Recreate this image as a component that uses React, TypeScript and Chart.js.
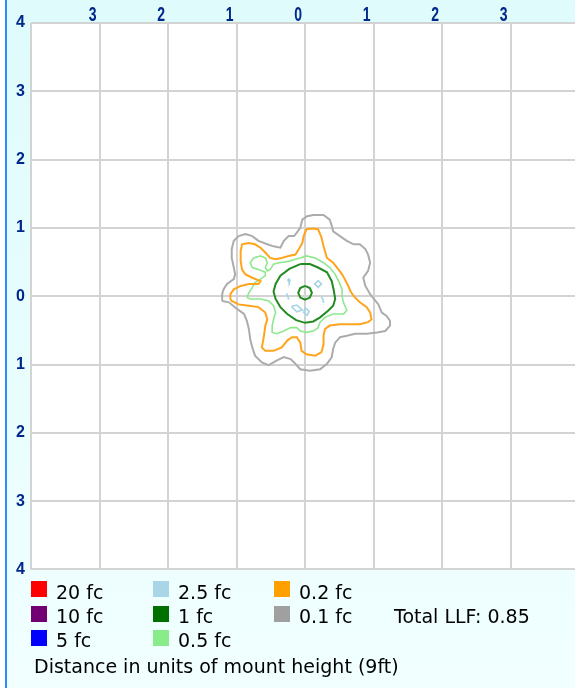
import React, { useEffect, useRef } from "react";
import { Chart, registerables } from "chart.js";

Chart.register(...registerables);

// ---- axes ----
const xTickValues = [-4, -3, -2, -1, 0, 1, 2, 3];
const yTickValues = [-4, -3, -2, -1, 0, 1, 2, 3, 4];
const xRange = [-4, 3.94];
const yRange = [-4, 4];

// ---- isofootcandle contours (units of mount height) ----
const contour01fc: number[][] = [
  [-1.21, -0.07], [-1.21, 0.03], [-1.19, 0.1], [-1.14, 0.18], [-1.04, 0.25], [-1.02, 0.32], [-1.04, 0.42],
  [-1.07, 0.56], [-1.07, 0.69], [-1.04, 0.81], [-0.97, 0.88], [-0.87, 0.91], [-0.77, 0.88], [-0.68, 0.81],
  [-0.55, 0.76], [-0.46, 0.73], [-0.36, 0.71], [-0.31, 0.81], [-0.24, 0.88], [-0.16, 0.88], [-0.12, 0.93],
  [-0.07, 1.0], [-0.04, 1.12], [0.03, 1.17], [0.12, 1.19], [0.27, 1.19], [0.36, 1.12], [0.39, 1.03],
  [0.41, 0.95], [0.51, 0.88], [0.61, 0.81], [0.71, 0.76], [0.8, 0.76], [0.88, 0.69], [0.92, 0.61],
  [0.95, 0.49], [0.92, 0.37], [0.85, 0.27], [0.88, 0.15], [0.95, 0.03], [1.07, -0.12], [1.12, -0.24],
  [1.19, -0.29], [1.24, -0.36], [1.24, -0.43], [1.17, -0.51], [1.05, -0.53], [0.9, -0.55], [0.73, -0.55],
  [0.61, -0.58], [0.51, -0.6], [0.44, -0.68], [0.41, -0.77], [0.39, -0.89], [0.32, -0.99], [0.22, -1.07],
  [0.07, -1.09], [-0.07, -1.07], [-0.14, -0.99], [-0.21, -0.92], [-0.31, -0.89], [-0.41, -0.94],
  [-0.53, -1.01], [-0.63, -0.97], [-0.73, -0.87], [-0.77, -0.75], [-0.8, -0.63], [-0.82, -0.48],
  [-0.85, -0.36], [-0.89, -0.26], [-0.99, -0.19], [-1.11, -0.09],
];

const contour02fc: number[][] = [
  [-1.09, -0.04], [-1.09, 0.03], [-1.04, 0.1], [-0.94, 0.15], [-0.82, 0.18], [-0.68, 0.18], [-0.65, 0.22],
  [-0.77, 0.27], [-0.87, 0.32], [-0.92, 0.39], [-0.94, 0.52], [-0.94, 0.66], [-0.92, 0.76], [-0.82, 0.78],
  [-0.73, 0.76], [-0.65, 0.71], [-0.58, 0.64], [-0.51, 0.56], [-0.43, 0.54], [-0.34, 0.56], [-0.24, 0.59],
  [-0.14, 0.61], [-0.09, 0.69], [-0.04, 0.78], [-0.02, 0.88], [0.02, 0.98], [0.12, 0.99], [0.19, 0.98],
  [0.24, 0.86], [0.27, 0.73], [0.32, 0.56], [0.41, 0.49], [0.49, 0.39], [0.54, 0.32], [0.58, 0.25],
  [0.63, 0.15], [0.66, 0.08], [0.71, 0.0], [0.8, -0.09], [0.9, -0.16], [0.95, -0.24], [0.97, -0.34],
  [0.92, -0.38], [0.8, -0.41], [0.66, -0.41], [0.51, -0.41], [0.36, -0.43], [0.29, -0.48], [0.27, -0.58],
  [0.27, -0.7], [0.24, -0.82], [0.15, -0.87], [0.02, -0.85], [-0.05, -0.8], [-0.07, -0.68], [-0.12, -0.6],
  [-0.19, -0.6], [-0.26, -0.65], [-0.34, -0.75], [-0.46, -0.8], [-0.58, -0.8], [-0.63, -0.75],
  [-0.6, -0.58], [-0.58, -0.43], [-0.55, -0.34], [-0.58, -0.24], [-0.68, -0.16], [-0.82, -0.14],
  [-0.97, -0.12], [-1.07, -0.07],
];

const contour05fc: number[][] = [
  [-0.85, -0.02], [-0.82, 0.05], [-0.77, 0.13], [-0.73, 0.2], [-0.65, 0.25], [-0.58, 0.3], [-0.58, 0.35],
  [-0.68, 0.39], [-0.77, 0.42], [-0.8, 0.49], [-0.75, 0.56], [-0.65, 0.59], [-0.58, 0.56], [-0.55, 0.49],
  [-0.58, 0.42], [-0.55, 0.37], [-0.51, 0.39], [-0.46, 0.47], [-0.38, 0.49], [-0.24, 0.51], [-0.14, 0.54],
  [-0.07, 0.56], [0.02, 0.59], [0.15, 0.56], [0.27, 0.49], [0.36, 0.42], [0.44, 0.32], [0.49, 0.22],
  [0.54, 0.1], [0.54, 0.0], [0.56, -0.09], [0.61, -0.21], [0.56, -0.26], [0.41, -0.26], [0.29, -0.31],
  [0.22, -0.38], [0.19, -0.46], [0.12, -0.51], [0.02, -0.53], [-0.07, -0.51], [-0.12, -0.46],
  [-0.21, -0.46], [-0.31, -0.51], [-0.41, -0.55], [-0.48, -0.53], [-0.48, -0.43], [-0.46, -0.34],
  [-0.43, -0.24], [-0.46, -0.14], [-0.53, -0.07], [-0.65, -0.04], [-0.8, -0.04],
];

const contour1fcOuter: number[][] = [
  [-0.07, 0.47], [0.07, 0.47], [0.19, 0.42], [0.32, 0.35], [0.39, 0.22], [0.42, 0.08], [0.44, -0.04],
  [0.41, -0.14], [0.34, -0.21], [0.22, -0.31], [0.12, -0.37], [0.0, -0.39], [-0.13, -0.35], [-0.26, -0.26],
  [-0.36, -0.16], [-0.43, -0.04], [-0.46, 0.07], [-0.43, 0.18], [-0.36, 0.3], [-0.23, 0.4],
];

const contour1fcInner: number[][] = [
  [0.0, 0.15], [0.07, 0.12], [0.1, 0.05], [0.07, -0.02], [0.0, -0.05], [-0.07, -0.02], [-0.1, 0.05], [-0.07, 0.12],
];

const contour25fcA: number[][] = [[-0.24, 0.26], [-0.22, 0.23], [-0.23, 0.2], [-0.25, 0.23]];
const contour25fcB: number[][] = [[0.19, 0.23], [0.24, 0.18], [0.19, 0.13], [0.14, 0.18]];
const contour25fcC: number[][] = [[-0.27, 0.04], [-0.25, 0.0], [-0.24, -0.05]];
const contour25fcD: number[][] = [[0.24, -0.01], [0.26, -0.05], [0.27, -0.1]];
const contour25fcE: number[][] = [[-0.2, -0.15], [-0.12, -0.13], [-0.04, -0.2], [-0.12, -0.23]];
const contour25fcF: number[][] = [[0.0, -0.17], [0.06, -0.22], [0.03, -0.28], [-0.02, -0.24]];

// ---- legend ----
const legendLabels = ["20 fc", "10 fc", "5 fc", "2.5 fc", "1 fc", "0.5 fc", "0.2 fc", "0.1 fc"];
const legendColors = ["#ff0000", "#720072", "#0000ff", "#a8d6e6", "#007000", "#88ec88", "#ffa000", "#a0a0a0"];
const totalLLF = "0.85";
const captionText = "Distance in units of mount height (9ft)";

const loop = (pts: number[][], closed = true) => {
  const d = pts.map((p) => ({ x: p[0], y: p[1] }));
  if (closed) d.push({ x: pts[0][0], y: pts[0][1] });
  return d;
};

const plotBg = {
  id: "plotBg",
  beforeDraw(chart: any) {
    const { ctx, chartArea: a } = chart;
    ctx.save();
    ctx.fillStyle = "#ffffff";
    ctx.fillRect(a.left, a.top, a.right - a.left, a.bottom - a.top);
    ctx.restore();
  },
};

// top axis labels: tall, narrow digits placed just left of each grid line
const topLabels = {
  id: "topLabels",
  afterDraw(chart: any) {
    const { ctx } = chart;
    const xs = chart.scales.x;
    ctx.save();
    ctx.fillStyle = "#00288c";
    ctx.font = "bold 14px 'Liberation Sans'";
    ctx.textAlign = "right";
    ctx.textBaseline = "alphabetic";
    xs.ticks.forEach((t: any) => {
      if (t.value === -4) return;
      const px = xs.getPixelForValue(t.value);
      ctx.save();
      ctx.translate(px - 3, 20.5);
      ctx.scale(1, 1.45);
      ctx.fillText(String(Math.abs(t.value)), 0, 0);
      ctx.restore();
    });
    ctx.restore();
  },
};

export default function App() {
  const ref = useRef<HTMLCanvasElement | null>(null);

  useEffect(() => {
    if (!ref.current) return;
    const line = (data: any[], color: string, width: number) => ({
      data,
      showLine: true,
      borderColor: color,
      backgroundColor: color,
      borderWidth: width,
      pointRadius: 0,
      fill: false,
      tension: 0,
    });
    const chart = new Chart(ref.current, {
      type: "scatter",
      data: {
        datasets: [
          line(loop(contour01fc), "#acacac", 2),
          line(loop(contour02fc), "#ffa41c", 2),
          line(loop(contour05fc), "#8ee88e", 1.6),
          line(loop(contour1fcOuter), "#228b22", 2),
          line(loop(contour1fcInner), "#228b22", 2),
          line(loop(contour25fcA), "#a6d3e6", 1.6),
          line(loop(contour25fcB), "#a6d3e6", 1.6),
          line(loop(contour25fcC, false), "#a6d3e6", 1.6),
          line(loop(contour25fcD, false), "#a6d3e6", 1.6),
          line(loop(contour25fcE), "#a6d3e6", 1.6),
          line(loop(contour25fcF), "#a6d3e6", 1.6),
        ] as any,
      },
      options: {
        animation: false,
        responsive: false,
        devicePixelRatio: 1,
        layout: { padding: { left: 0, right: 0, top: 0, bottom: 14.5 } },
        plugins: { legend: { display: false }, tooltip: { enabled: false } },
        scales: {
          x: {
            type: "linear",
            position: "top",
            min: xRange[0],
            max: xRange[1],
            afterBuildTicks: (s: any) => {
              s.ticks = xTickValues.map((v) => ({ value: v }));
            },
            afterFit: (s: any) => {
              s.height = 23;
            },
            grid: { color: "#d3d3d3", lineWidth: 2, drawTicks: false },
            border: { display: false },
            ticks: { display: false },
          },
          y: {
            type: "linear",
            position: "left",
            min: yRange[0],
            max: yRange[1],
            afterBuildTicks: (s: any) => {
              s.ticks = yTickValues.map((v) => ({ value: v }));
            },
            afterFit: (s: any) => {
              s.width = 31;
            },
            grid: { color: "#d3d3d3", lineWidth: 2, drawTicks: false },
            border: { display: false },
            ticks: {
              color: "#00288c",
              font: { family: "Liberation Sans", size: 16, weight: "bold" },
              padding: 6,
              autoSkip: false,
              callback: (v: any) => String(Math.abs(Number(v))),
            },
          },
        },
      } as any,
      plugins: [plotBg, topLabels],
    });
    return () => chart.destroy();
  }, []);

  const colX = [31, 153, 274];
  const rowTop = [581, 606, 630];
  const rowBase = [599, 623, 647];
  const textStyle: React.CSSProperties = {
    position: "absolute",
    fontFamily: "'DejaVu Sans', sans-serif",
    fontSize: "19px",
    lineHeight: "19px",
    color: "#000",
    whiteSpace: "nowrap",
  };

  return (
    <div
      style={{
        position: "fixed",
        left: 0,
        top: 0,
        width: 575,
        height: 688,
        overflow: "hidden",
        background: "linear-gradient(to bottom, #dffbfb, #f1ffff)",
      }}
    >
      <div style={{ position: "absolute", left: 0, top: 0, width: 5, height: 688, background: "#ffffff" }} />
      <div style={{ position: "absolute", left: 5, top: 0, width: 2, height: 688, background: "#2a8cff" }} />
      <canvas ref={ref} width={575} height={585} style={{ position: "absolute", left: 0, top: 0 }} />
      {legendLabels.map((lab, i) => {
        const c = Math.floor(i / 3);
        const r = i % 3;
        return (
          <React.Fragment key={lab}>
            <div
              style={{
                position: "absolute",
                left: colX[c],
                top: rowTop[r],
                width: 16,
                height: 16,
                background: legendColors[i],
              }}
            />
            <div style={{ ...textStyle, left: colX[c] + 25, top: rowBase[r] - 16 }}>{lab}</div>
          </React.Fragment>
        );
      })}
      <div style={{ ...textStyle, left: 394, top: rowBase[1] - 16 }}>{"Total LLF: " + totalLLF}</div>
      <div style={{ ...textStyle, left: 34, top: 673 - 16 }}>{captionText}</div>
    </div>
  );
}
